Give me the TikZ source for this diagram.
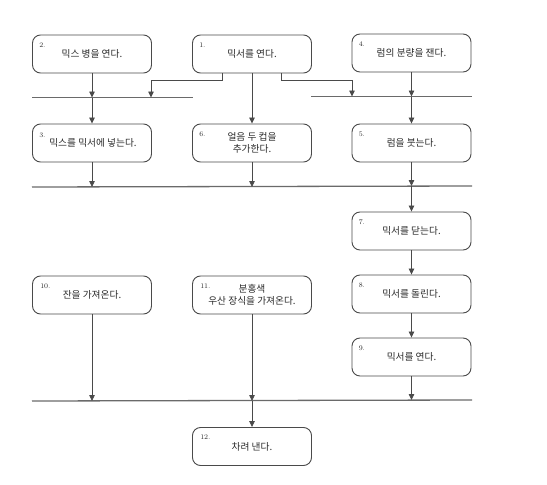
\documentclass[tikz,border=0pt]{standalone}
\usepackage{fontspec}
\newfontfamily\kr{Noto Sans CJK KR}
\usetikzlibrary{arrows.meta}
\definecolor{linegray}{HTML}{4A4A4A}
\definecolor{bargray}{HTML}{6A6A6A}
\definecolor{txt}{HTML}{2A2A2A}
\tikzset{
  box/.style={draw=linegray, rounded corners=8pt, minimum width=119pt, minimum height=38pt,
    line width=0.9pt, align=center, text=txt, inner sep=0pt,
    font=\kr\fontsize{9.7}{12.5}\selectfont},
  num/.style={anchor=north west, inner sep=0pt, text=txt, font=\fontsize{7}{8}\selectfont},
  arr/.style={draw=linegray, line width=0.8pt, -{Triangle[length=6pt,width=5.5pt]}},
  bar/.style={draw=bargray, line width=1.3pt}
}
\begin{document}
\begin{tikzpicture}[x=1pt,y=-1pt]
\useasboundingbox (0,0) rectangle (547,485);
% boxes
\node[box] (b2) at (92,54) {믹스 병을 연다.};
\node[box] (b1) at (252,54) {믹서를 연다.};
\node[box] (b4) at (411.5,53) {럼의 분량을 잰다.};
\node[box] (b3) at (92,143) {\hspace*{2pt}믹스를 믹서에 넣는다.};
\node[box] (b6) at (252,143) {얼음 두 컵을\\추가한다.};
\node[box] (b5) at (411.5,143) {럼을 붓는다.};
\node[box] (b7) at (411.5,231) {믹서를 닫는다.};
\node[box] (b10) at (92,295) {잔을 가져온다.};
\node[box] (b11) at (252,295) {분홍색\\우산 장식을 가져온다.};
\node[box] (b8) at (411.5,294) {믹서를 돌린다.};
\node[box] (b9) at (411.5,357) {믹서를 연다.};
\node[box] (b12) at (252,446.5) {차려 낸다.};
% numbers
\node[num] (n2) at ([shift={(7,8)}]b2.north west) {2.};
\node[num] (n1) at ([shift={(7,8)}]b1.north west) {1.};
\node[num] (n4) at ([shift={(7,8)}]b4.north west) {4.};
\node[num] (n3) at ([shift={(7,9)}]b3.north west) {3.};
\node[num] (n6) at ([shift={(7,8)}]b6.north west) {6.};
\node[num] (n5) at ([shift={(7,8)}]b5.north west) {5.};
\node[num] (n7) at ([shift={(7,8)}]b7.north west) {7.};
\node[num] (n10) at ([shift={(8,8)}]b10.north west) {10.};
\node[num] (n11) at ([shift={(8,8)}]b11.north west) {11.};
\node[num] (n8) at ([shift={(7,8)}]b8.north west) {8.};
\node[num] (n9) at ([shift={(7,8)}]b9.north west) {9.};
\node[num] (n12) at ([shift={(8,8)}]b12.north west) {12.};
% synchronisation bars
\coordinate (s1a) at (32,97.5);
\coordinate (s1b) at (193,97.5);
\coordinate (s1c) at (311,96.5);
\coordinate (s1d) at (472,96.5);
\coordinate (s2a) at (32,187);
\coordinate (s2b) at (472,186);
\coordinate (s3a) at (32,401);
\coordinate (s3b) at (472,400);
\draw[bar] (s1a) -- (s1b);
\draw[bar] (s1c) -- (s1d);
\draw[bar] (s2a) -- (s2b);
\draw[bar] (s3a) -- (s3b);
% connectors, row 1
\coordinate (l1) at (222,80);
\coordinate (l2) at (151,80);
\coordinate (r1) at (281,80);
\coordinate (r2) at (352,80);
\draw[arr] (b2.south) -- (b2.south |- s1a);
\draw[arr] (b1.south -| l1) -- (l1) -- (l2) -- (l2 |- s1a);
\draw[arr] (b1.south -| r1) -- (r1) -- (r2) -- (r2 |- s1d);
\draw[arr] (b1.south) -- (b6.north);
\draw[arr] (b4.south) -- (b4.south |- s1d);
\draw[arr] (b3.north |- s1a) -- (b3.north);
\draw[arr] (b5.north |- s1d) -- (b5.north);
% row 2
\draw[arr] (b3.south) -- (b3.south |- s2a);
\draw[arr] (b6.south) -- (b6.south |- s2a);
\draw[arr] (b5.south) -- (b5.south |- s2b);
\draw[arr] (b7.north |- s2b) -- (b7.north);
\draw[arr] (b7.south) -- (b8.north);
\draw[arr] (b8.south) -- (b9.north);
% row 3
\draw[arr] (b10.south) -- (b10.south |- s3a);
\draw[arr] (b11.south) -- (b11.south |- s3a);
\draw[arr] (b9.south) -- (b9.south |- s3b);
\draw[arr] (b12.north |- s3a) -- (b12.north);
\end{tikzpicture}
\end{document}
